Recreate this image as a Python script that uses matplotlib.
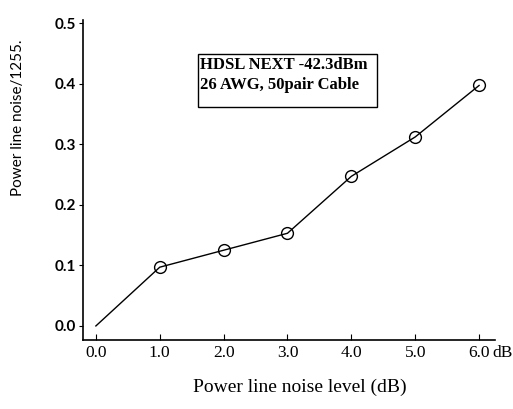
import matplotlib
matplotlib.use("Agg")
import matplotlib.pyplot as plt
from matplotlib.patches import Rectangle

# values
noise_level = [0.0, 1.0, 2.0, 3.0, 4.0, 5.0, 6.0]
noise_ratio = [0.0, 0.097, 0.125, 0.153, 0.247, 0.312, 0.397]
x_ticks = [0.0, 1.0, 2.0, 3.0, 4.0, 5.0, 6.0]
x_tick_labels = ["0.0", "1.0", "2.0", "3.0", "4.0", "5.0", "6.0"]
y_ticks = [0.0, 0.1, 0.2, 0.3, 0.4, 0.5]
y_tick_labels = ["0.0", "0.1", "0.2", "0.3", "0.4", "0.5"]
note_lines = ["HDSL NEXT -42.3dBm", "26 AWG, 50pair Cable"]

serif = "Liberation Serif"
sans = "Lato"

fig = plt.figure(figsize=(5.13, 4.09), dpi=100)
ax = fig.add_axes([0.162, 0.169, 0.803, 0.782])

ax.plot(noise_level, noise_ratio, color="black", lw=1.0)
ax.plot(noise_level[1:], noise_ratio[1:], "o", ms=8.5, mfc="none", mec="black", mew=1.0)

ax.set_xlim(-0.2, 6.25)
ax.set_ylim(-0.023, 0.505)
ax.spines["top"].set_visible(False)
ax.spines["right"].set_visible(False)
ax.spines["left"].set_linewidth(1.2)
ax.spines["bottom"].set_linewidth(1.2)

ax.set_xticks(x_ticks)
ax.set_xticklabels(x_tick_labels, fontfamily=serif, fontsize=12.5)
ax.set_yticks(y_ticks)
ax.set_yticklabels(y_tick_labels, fontfamily=sans, fontsize=11, fontweight="bold")
ax.tick_params(axis="x", direction="in", length=4, pad=4)
ax.tick_params(axis="y", direction="out", length=3, pad=2)

# unit after the last tick label
ax.annotate("dB", xy=(6.0, 0), xycoords=("data", "axes fraction"),
            xytext=(9.3, -4), textcoords="offset points",
            fontfamily=serif, fontsize=12.5, ha="left", va="top")

ax.set_xlabel("Power line noise level (dB)", fontfamily=serif, fontsize=14)
ax.xaxis.set_label_coords(0.527, -0.122)
fig.text(0.035, 0.711, "Power line noise/1255.", fontfamily=sans, fontsize=11,
         rotation=90, ha="center", va="center")

# note box
ax.add_patch(Rectangle((1.60, 0.361), 2.80, 0.088, fill=False, ec="black", lw=1.0))
ax.text(1.63, 0.431, note_lines[0], fontfamily=serif, fontsize=12,
        fontweight="bold", va="center", ha="left")
ax.text(1.63, 0.398, note_lines[1], fontfamily=serif, fontsize=12,
        fontweight="bold", va="center", ha="left")

fig.savefig("out.png", dpi=100)
